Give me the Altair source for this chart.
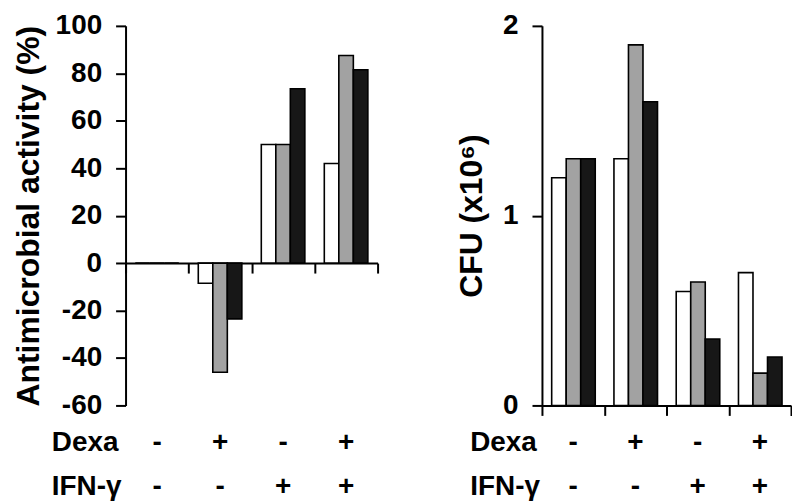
import altair as alt
import pandas as pd

# ---- data ----
groups = ["G1", "G2", "G3", "G4"]
series = ["S1", "S2", "S3"]
dexa_signs = ["-", "+", "-", "+"]
ifn_signs = ["-", "-", "+", "+"]

activity_s1 = [0, -8.5, 50, 42]
activity_s2 = [0, -46, 50, 87.5]
activity_s3 = [0, -23.5, 73.5, 81.5]

cfu_s1 = [1.2, 1.3, 0.6, 0.7]
cfu_s2 = [1.3, 1.9, 0.65, 0.17]
cfu_s3 = [1.3, 1.6, 0.35, 0.255]

left_ticks = [-60, -40, -20, 0, 20, 40, 60, 80, 100]
right_ticks = [0, 1, 2]

bar_colors = ["#ffffff", "#a2a2a2", "#171717"]
FONT = "Liberation Sans"
FS = 28
H = 381
ROW1 = 419
ROW_GAP = 44


def long_df(s1, s2, s3):
    rows = []
    for name, vals in zip(series, [s1, s2, s3]):
        for g, v in zip(groups, vals):
            rows.append({"group": g, "series": name, "value": v})
    return pd.DataFrame(rows)


signs_df = pd.DataFrame({"group": groups, "dexa": dexa_signs, "ifn": ifn_signs})
labels_df = pd.DataFrame({"lab": ["Dexa", "IFN-γ"], "row": [0, 1]})


def panel(df, ytitle, ydomain, yticks, xaxis_offset, width, lab_x, title_pad):
    xscale = alt.Scale(domain=groups, paddingInner=0, paddingOuter=0)
    xaxis = alt.Axis(title=None, labels=False, tickBand="extent", tickSize=10,
                     tickWidth=2, domainWidth=2, tickColor="black",
                     domainColor="black", offset=xaxis_offset, grid=False)
    bars = alt.Chart(df).mark_bar(stroke="black", strokeWidth=1.6).encode(
        x=alt.X("group:N", scale=xscale, axis=xaxis, sort=groups),
        xOffset=alt.XOffset("series:N",
                            scale=alt.Scale(domain=series, paddingInner=0, paddingOuter=0.67)),
        y=alt.Y("value:Q",
                scale=alt.Scale(domain=ydomain, nice=False, zero=False),
                axis=alt.Axis(title=ytitle, values=yticks, tickSize=10, tickWidth=2,
                              domainWidth=2, tickColor="black", domainColor="black",
                              labelPadding=14, titlePadding=title_pad, grid=False,
                              labelExpr="datum.value + ''")),
        color=alt.Color("series:N", scale=alt.Scale(domain=series, range=bar_colors),
                        legend=None),
    )
    dexa_t = alt.Chart(signs_df).mark_text(font=FONT, fontWeight="bold", fontSize=FS,
                                           baseline="middle", align="center").encode(
        x=alt.X("group:N", scale=xscale, sort=groups),
        y=alt.value(ROW1),
        text="dexa:N",
    )
    ifn_t = alt.Chart(signs_df).mark_text(font=FONT, fontWeight="bold", fontSize=FS,
                                          baseline="middle", align="center").encode(
        x=alt.X("group:N", scale=xscale, sort=groups),
        y=alt.value(ROW1 + ROW_GAP),
        text="ifn:N",
    )
    row_lab = alt.Chart(labels_df).transform_calculate(
        ypix=f"datum.row * {ROW_GAP} + {ROW1}"
    ).mark_text(font=FONT, fontWeight="bold", fontSize=FS, baseline="middle",
                align="left").encode(
        x=alt.value(lab_x),
        y=alt.Y("ypix:Q", scale=None),
        text="lab:N",
    )
    return alt.layer(bars, dexa_t, ifn_t, row_lab).properties(width=width, height=H)


left = panel(long_df(activity_s1, activity_s2, activity_s3),
             "Antimicrobial activity (%)", [-60, 100], left_ticks,
             -H * 60 / 160, 253, -74, 10)
right = panel(long_df(cfu_s1, cfu_s2, cfu_s3),
              "CFU (x10⁶)", [0, 2], right_ticks, 0, 250, -72, 14)

chart = alt.hconcat(left, right, spacing=77).properties(
    padding={"top": 3, "left": 4, "right": 0, "bottom": 0}
).configure_view(
    stroke=None
).configure_axis(
    labelFont=FONT, labelFontWeight="bold", labelFontSize=FS, labelColor="black",
    titleFont=FONT, titleFontWeight="bold", titleFontSize=32, titleColor="black",
)

chart.save("out.html", embed_options={"renderer": "svg", "actions": False})
